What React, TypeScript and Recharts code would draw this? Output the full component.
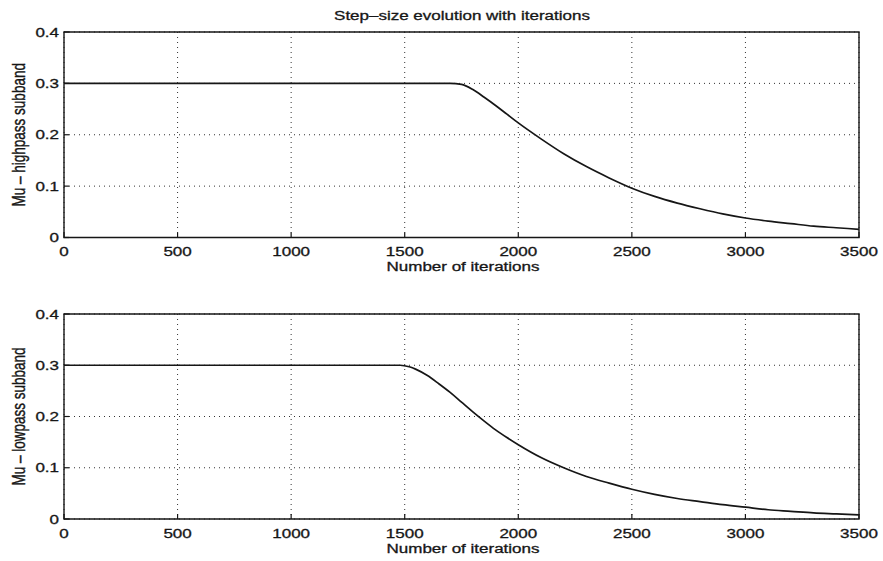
import {
  CartesianGrid,
  Line,
  LineChart,
  ReferenceArea,
  XAxis,
  YAxis,
} from 'recharts'

// values
const xTicks = [0, 500, 1000, 1500, 2000, 2500, 3000, 3500]
const yTicks = [0, 0.1, 0.2, 0.3, 0.4]

const highIter = [0, 1700, 1750, 1800, 1850, 1900, 1950, 2000, 2100, 2200, 2300, 2400, 2500, 2600, 2700, 2800, 2900, 3000, 3100, 3200, 3300, 3400, 3500]
const highMu = [0.3, 0.3, 0.298, 0.288, 0.273, 0.257, 0.24, 0.223, 0.192, 0.163, 0.138, 0.116, 0.096, 0.08, 0.067, 0.056, 0.046, 0.038, 0.032, 0.027, 0.022, 0.019, 0.016]

const lowIter = [0, 1480, 1520, 1550, 1600, 1650, 1700, 1750, 1800, 1850, 1900, 1950, 2000, 2100, 2200, 2300, 2400, 2500, 2600, 2700, 2800, 2900, 3000, 3100, 3200, 3300, 3400, 3500]
const lowMu = [0.3, 0.3, 0.297, 0.292, 0.28, 0.264, 0.247, 0.228, 0.209, 0.191, 0.174, 0.159, 0.145, 0.12, 0.1, 0.083, 0.07, 0.058, 0.048, 0.04, 0.034, 0.028, 0.023, 0.018, 0.015, 0.012, 0.01, 0.008]

const FONT = '"Liberation Sans", Arial, Helvetica, sans-serif'
const STRETCH = 1.36
const INK = '#161616'

function SText({ x, y, anchor = 'middle', rotate = false, size = 12.5, children }: any) {
  return (
    <text
      transform={`translate(${x},${y}) scale(${STRETCH},1)${rotate ? ' rotate(-90)' : ''}`}
      textAnchor={anchor}
      fontFamily={FONT}
      fontSize={size}
      fill={INK}
      stroke={INK}
      strokeWidth={0.3}
    >
      {children}
    </text>
  )
}

const XTick = ({ x, y, payload }: any) => (
  <SText x={x} y={y + 18.5}>{String(payload.value)}</SText>
)

const YTick = ({ x, y, payload }: any) => (
  <SText x={x - 5} y={y + 4.5} anchor="end">{String(payload.value)}</SText>
)

const tickStroke = { stroke: INK, strokeWidth: 1.2 }

function Panel({ iter, mu, yLabel, height, bottom, title }: any) {
  const data = iter.map((t: number, i: number) => ({ t, mu: mu[i] }))
  const plotBottom = height - bottom - 30
  return (
    <LineChart
      width={883}
      height={height}
      data={data}
      margin={{ top: 32, right: 24, bottom, left: 24 }}
    >
      <CartesianGrid
        stroke="#333"
        strokeDasharray="1 4"
        horizontalValues={yTicks}
        verticalValues={xTicks}
      />
      <XAxis
        type="number"
        dataKey="t"
        domain={[0, 3500]}
        ticks={xTicks}
        height={30}
        tickSize={-5}
        tickMargin={5}
        tickLine={tickStroke}
        axisLine={false}
        tick={<XTick />}
        interval={0}
      />
      <XAxis
        xAxisId="top"
        orientation="top"
        type="number"
        dataKey="t"
        domain={[0, 3500]}
        ticks={xTicks}
        height={0}
        tickSize={-5}
        tickLine={tickStroke}
        axisLine={false}
        tick={false}
        interval={0}
      />
      <YAxis
        type="number"
        domain={[0, 0.4]}
        ticks={yTicks}
        width={40}
        tickSize={-5}
        tickMargin={5}
        tickLine={tickStroke}
        axisLine={false}
        tick={<YTick />}
        interval={0}
      />
      <YAxis
        yAxisId="right"
        orientation="right"
        type="number"
        domain={[0, 0.4]}
        ticks={yTicks}
        width={0}
        tickSize={-5}
        tickLine={tickStroke}
        axisLine={false}
        tick={false}
        interval={0}
      />
      <ReferenceArea
        x1={0}
        x2={3500}
        y1={0}
        y2={0.4}
        fill="none"
        stroke={INK}
        strokeWidth={1.4}
        ifOverflow="visible"
      />
      <Line
        type="monotone"
        dataKey="mu"
        stroke={INK}
        strokeWidth={1.7}
        dot={false}
        isAnimationActive={false}
      />
      {title && <SText x={462} y={20}>{title}</SText>}
      <SText x={463} y={plotBottom + 33.5}>Number of iterations</SText>
      <SText x={25} y={32 + (plotBottom - 32) / 2} rotate size={13.5}>{yLabel}</SText>
    </LineChart>
  )
}

export default function App() {
  return (
    <div style={{ position: 'absolute', left: 0, top: 0, width: 883, height: 561, background: '#fff' }}>
      <div style={{ position: 'absolute', left: 0, top: 0 }}>
        <Panel
          iter={highIter}
          mu={highMu}
          yLabel="Mu – highpass subband"
          height={280}
          bottom={12.5}
          title="Step–size evolution with iterations"
        />
      </div>
      <div style={{ position: 'absolute', left: 0, top: 282 }}>
        <Panel
          iter={lowIter}
          mu={lowMu}
          yLabel="Mu – lowpass subband"
          height={279}
          bottom={12}
        />
      </div>
    </div>
  )
}
